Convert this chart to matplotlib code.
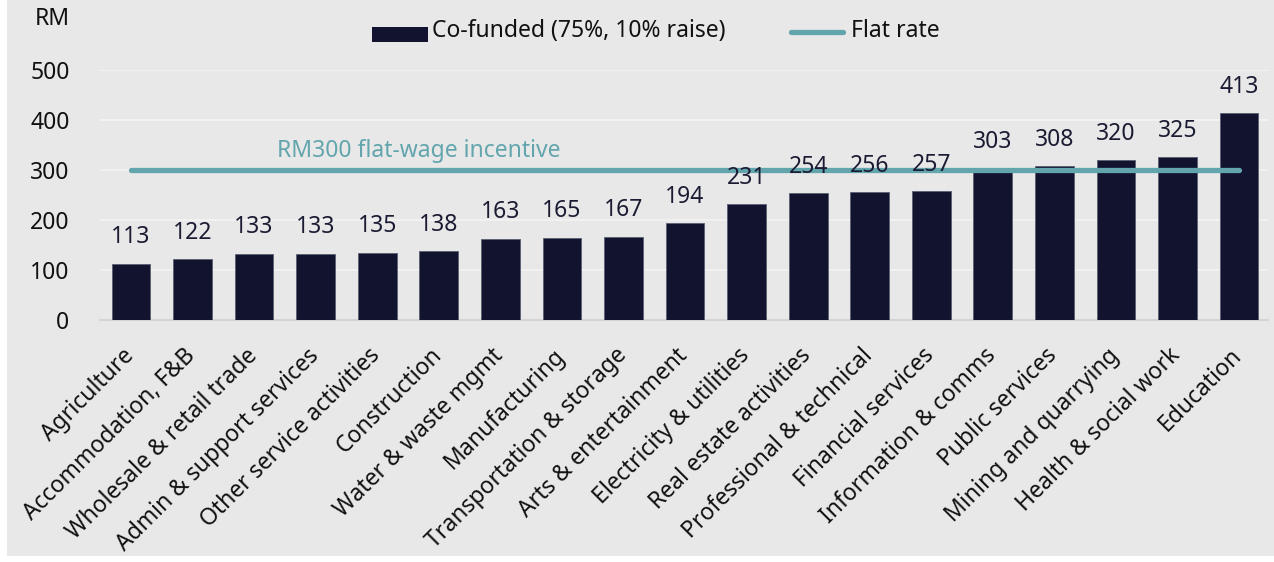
import matplotlib
matplotlib.use("Agg")
import matplotlib.pyplot as plt
from matplotlib.patches import Rectangle
from matplotlib.lines import Line2D
from matplotlib.transforms import ScaledTranslation

categories = ["Agriculture", "Accommodation, F&B", "Wholesale & retail trade",
              "Admin & support services", "Other service activities", "Construction",
              "Water & waste mgmt", "Manufacturing", "Transportation & storage",
              "Arts & entertainment", "Electricity & utilities", "Real estate activities",
              "Professional & technical", "Financial services", "Information & comms",
              "Public services", "Mining and quarrying", "Health & social work", "Education"]
co_funded = [113, 122, 133, 133, 135, 138, 163, 165, 167, 194, 231, 254, 256, 257,
             303, 308, 320, 325, 413]
flat_rate = 300
yticks = [0, 100, 200, 300, 400, 500]
legend_labels = ["Co-funded (75%, 10% raise)", "Flat rate"]

plt.rcParams['font.family'] = ['Noto Sans', 'DejaVu Sans']

W, H = 1274, 562
FS = 16.5
fig = plt.figure(figsize=(W/100, H/100), dpi=100)
fig.patch.set_facecolor('white')
bg = '#e8e8e8'
fig.patches.append(Rectangle((7/W, 6/H), 1 - 7/W, 1 - 6/H, transform=fig.transFigure,
                             facecolor=bg, edgecolor='none', zorder=-10))

ax = fig.add_axes([100/W, (H-320)/H, (1268-100)/W, 250/H])
ax.set_facecolor(bg)
ax.patch.set_alpha(0)

x = list(range(len(categories)))
navy = '#12132f'
teal = '#62a5ad'
ax.bar(x, co_funded, width=0.63, color=navy, edgecolor='#5a5e73', linewidth=0.6, zorder=3)
for xi, v in zip(x, co_funded):
    ax.annotate(str(v), (xi, v), xytext=(0, 14.5), textcoords='offset points',
                ha='center', va='baseline', fontsize=FS, color='#1b1c33', zorder=5)

ax.plot([x[0], x[-1]], [flat_rate, flat_rate], color=teal, lw=3.8,
        solid_capstyle='round', zorder=4)
ax.text(4.68, flat_rate + 26, "RM300 flat-wage incentive", color=teal, fontsize=FS,
        ha='center', va='baseline', zorder=5)

ax.set_ylim(0, 500)
ax.set_xlim(-0.503, len(categories) - 1 + 0.47)
ax.set_yticks(yticks)
ax.set_yticklabels([str(t) for t in yticks], fontsize=FS, color='#111111')
ax.grid(axis='y', color='#f4f4f4', lw=1.2, zorder=0)
ax.set_axisbelow(True)
for s in ['top', 'right', 'left']:
    ax.spines[s].set_visible(False)
ax.spines['bottom'].set_color('#cfcfcf')
ax.spines['bottom'].set_linewidth(1.2)
ax.tick_params(axis='both', length=0)
ax.tick_params(axis='y', pad=22)
ax.set_xticks(x)
ax.set_xticklabels(categories, rotation=45, ha='right', va='top',
                   rotation_mode='anchor', fontsize=FS, color='#111111')
ax.tick_params(axis='x', pad=17)
shift = ScaledTranslation(-9/100, 0, fig.dpi_scale_trans)
for lab in ax.get_xticklabels():
    lab.set_transform(lab.get_transform() + shift)

fig.text(52/W, 1 - 19/H, "RM", fontsize=FS, ha='center', va='center', color='#111111')

# legend drawn manually in figure pixel coordinates
fig.patches.append(Rectangle((372/W, 1 - 42/H), 56/W, 15/H, transform=fig.transFigure,
                             facecolor=navy, edgecolor='none'))
fig.text(432/W, 1 - 31/H, legend_labels[0], fontsize=FS, ha='left', va='center',
         color='#111111')
fig.lines.append(Line2D([791/W, 843/W], [1 - 32/H, 1 - 32/H], transform=fig.transFigure,
                        color=teal, lw=3.8, solid_capstyle='round'))
fig.text(851/W, 1 - 31/H, legend_labels[1], fontsize=FS, ha='left', va='center',
         color='#111111')

fig.savefig("out.png", dpi=100, facecolor=fig.get_facecolor())
